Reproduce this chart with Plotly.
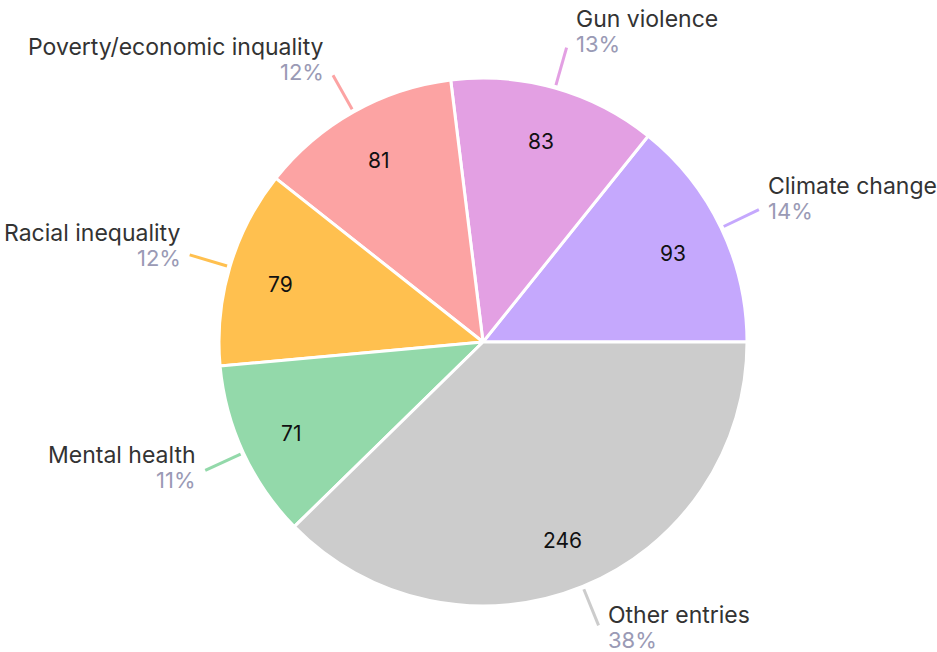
import math
import plotly.graph_objects as go

labels = ["Climate change", "Gun violence", "Poverty/economic inquality",
          "Racial inequality", "Mental health", "Other entries"]
values = [93, 83, 81, 79, 71, 246]
colors = ["#c5a8fd", "#e3a0e3", "#fca3a3", "#ffc04f", "#93d9aa", "#cccccc"]

W, H = 937, 652
CX, CY, R = 483, 342, 264    # pie centre / radius in pixels
FONT = "Inter"

total = sum(values)


def xp(px):
    return px / W


def yp(py):
    return 1 - py / H


fig = go.Figure(go.Pie(
    labels=labels, values=values, sort=False,
    direction="counterclockwise",
    rotation=90 - values[0] / total * 360,
    marker=dict(colors=colors, line=dict(color="white", width=3)),
    textinfo="none", hoverinfo="label+value+percent",
    domain=dict(x=[xp(CX - R), xp(CX + R)], y=[yp(CY + R), yp(CY - R)]),
    showlegend=False,
))

shapes, annots = [], []
cum = 0
for lab, v, c in zip(labels, values, colors):
    mid = (cum + v / 2) / total * 2 * math.pi
    cum += v
    ca, sa = math.cos(mid), math.sin(mid)

    def px(r):
        return CX + r * ca

    def py(r):
        return CY - r * sa

    # value inside slice
    annots.append(dict(x=xp(px(R * 0.8)), y=yp(py(R * 0.8) + 3), xref="paper", yref="paper",
                       text=str(v), showarrow=False,
                       font=dict(family=FONT, size=21, color="#111111"),
                       xanchor="center", yanchor="middle"))
    # leader line
    x0, y0, x1, y1 = px(R + 3), py(R + 3), px(R + 42), py(R + 42)
    shapes.append(dict(type="line", xref="paper", yref="paper",
                       x0=xp(x0), y0=yp(y0), x1=xp(x1), y1=yp(y1),
                       line=dict(color=c, width=3)))
    right = ca >= 0
    tx = x1 + (7 if right else -7)
    pct_c = y1 + 5.6 - 10 * sa
    name_c = pct_c - 25
    anchor = "left" if right else "right"
    pct = round(v / total * 100)
    annots.append(dict(x=xp(tx), y=yp(name_c), xref="paper", yref="paper",
                       text=lab, showarrow=False, xanchor=anchor, yanchor="middle",
                       font=dict(family=FONT, size=23, color="#333333")))
    annots.append(dict(x=xp(tx), y=yp(pct_c), xref="paper", yref="paper",
                       text=f"{pct}%", showarrow=False, xanchor=anchor, yanchor="middle",
                       font=dict(family=FONT, size=22, color="#9a9ab5")))

fig.update_layout(width=W, height=H, margin=dict(l=0, r=0, t=0, b=0),
                  paper_bgcolor="white", plot_bgcolor="white",
                  shapes=shapes, annotations=annots)
fig.write_html("out.html", config={"displayModeBar": False},
               post_script="document.body.style.margin='0';document.body.style.overflow='hidden';")
